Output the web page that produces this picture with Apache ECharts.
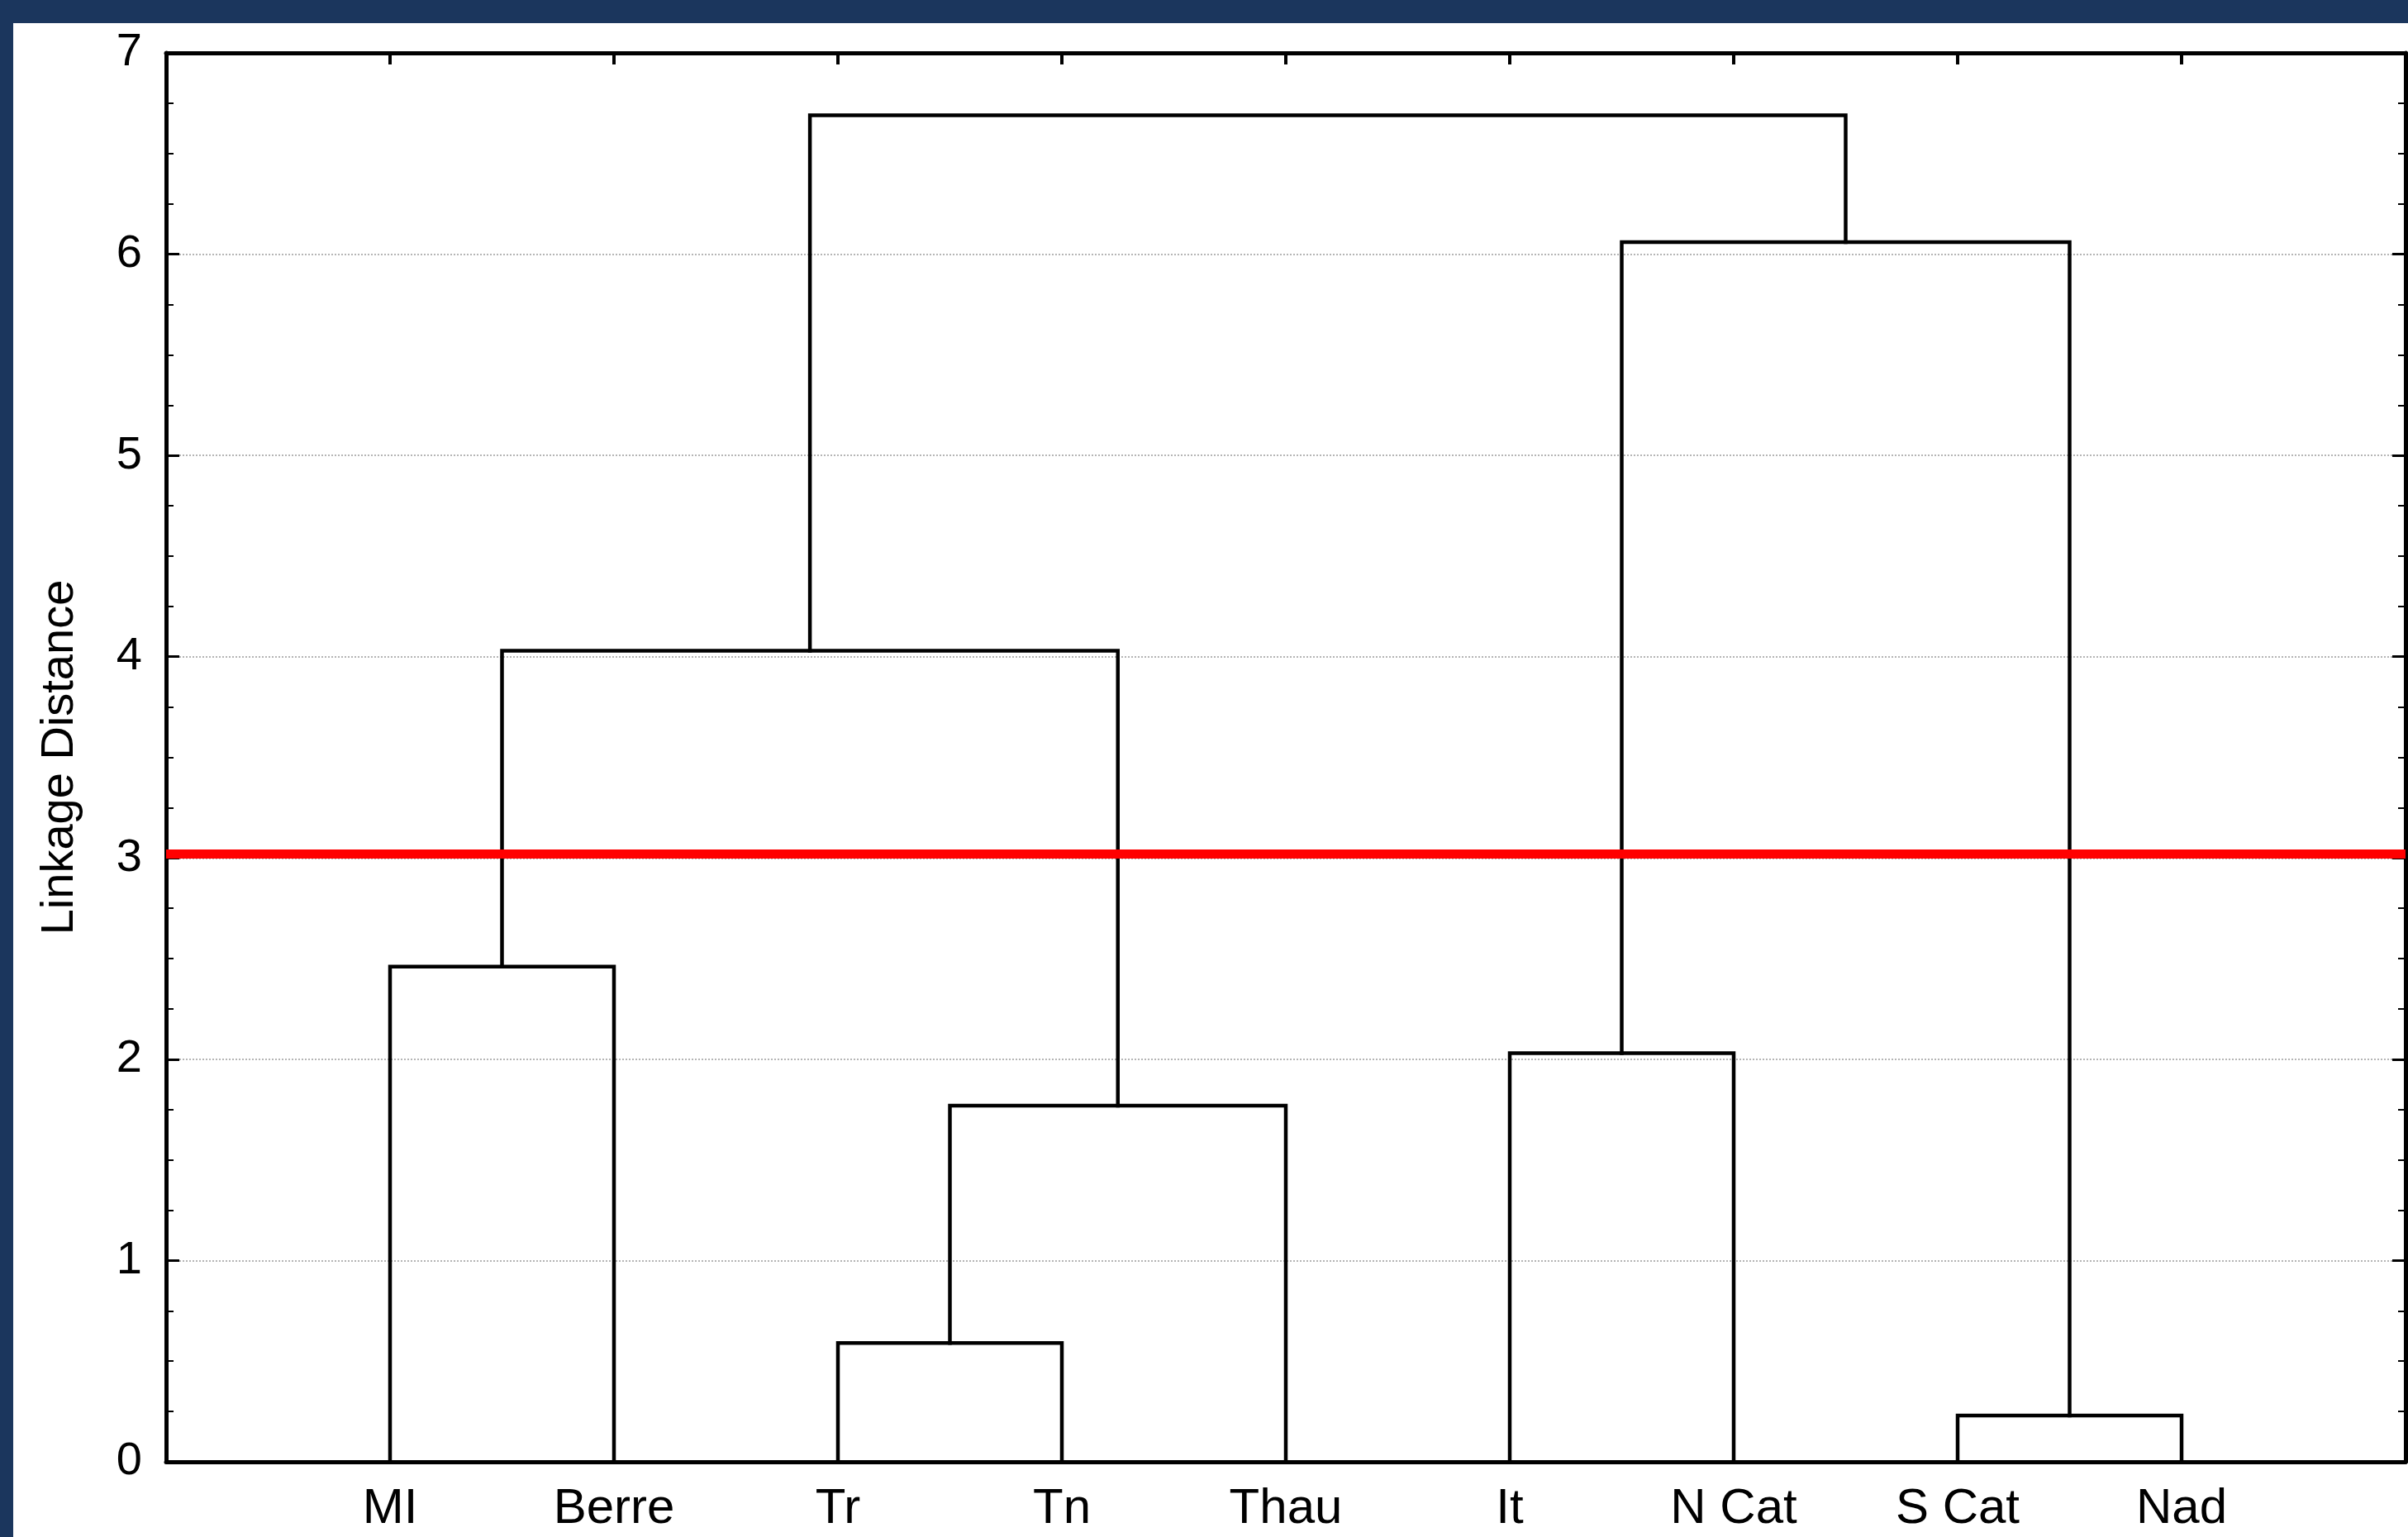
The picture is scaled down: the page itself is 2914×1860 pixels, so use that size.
<!DOCTYPE html>
<html>
<head>
<meta charset="utf-8">
<script src="https://cdn.jsdelivr.net/npm/echarts@6/dist/echarts.min.js"></script>
<style>
  html, body { margin: 0; padding: 0; width: 2914px; height: 1860px; background: #1b365d; overflow: hidden; }
  #chart { position: absolute; left: 16px; top: 28px; width: 2898px; height: 1832px; background: #ffffff; }
</style>
</head>
<body>
<div id="chart"></div>
<script>
// Leaves of the dendrogram (left to right)
const leaves = ['MI', 'Berre', 'Tr', 'Tn', 'Thau', 'It', 'N Cat', 'S Cat', 'Nad'];
// Merges: [left node, right node, linkage distance]; nodes 0..8 are leaves, 9.. are merges in order
const mergeLeft   = [0, 2, 10, 9, 5, 7, 13, 12];
const mergeRight  = [1, 3, 4, 11, 6, 8, 14, 15];
const mergeHeight = [2.46, 0.59, 1.77, 4.03, 2.03, 0.23, 6.06, 6.69];
// Cut line
const cutLevel = 3.02;
// Y axis ticks
const yTicks = [0, 1, 2, 3, 4, 5, 6, 7];

const nodeX = leaves.map((_, i) => i + 1);
const nodeY = leaves.map(() => 0);
const links = [];
for (let k = 0; k < mergeHeight.length; k++) {
  const a = mergeLeft[k], b = mergeRight[k], h = mergeHeight[k];
  links.push([[nodeX[a], nodeY[a]], [nodeX[a], h], [nodeX[b], h], [nodeX[b], nodeY[b]]]);
  nodeX.push((nodeX[a] + nodeX[b]) / 2);
  nodeY.push(h);
}

const series = links.map(d => ({
  type: 'line', data: d, symbol: 'none', silent: true, animation: false,
  lineStyle: { color: '#000', width: 4.5, join: 'miter', cap: 'square' }, z: 3, clip: false
}));
series.push({
  type: 'line', data: [[0, cutLevel], [leaves.length + 1, cutLevel]], symbol: 'none', silent: true,
  animation: false, lineStyle: { color: '#ff0000', width: 11 }, z: 4
});

const chart = echarts.init(document.getElementById('chart'), null, { renderer: 'canvas' });
const fontFam = '"Liberation Sans", Arial, sans-serif';
const frameLine = { show: true, onZero: false, lineStyle: { color: '#000', width: 5 } };
chart.setOption({
  animation: false,
  grid: { left: 185, top: 36, right: 3, bottom: 91 },
  xAxis: [
    {
      type: 'value', min: 0, max: leaves.length + 1, interval: 1, position: 'bottom',
      axisLine: frameLine,
      axisTick: { show: false },
      splitLine: { show: false },
      axisLabel: {
        show: true, margin: 27, fontSize: 60, color: '#000', fontFamily: fontFam,
        formatter: v => (v >= 1 && v <= leaves.length) ? leaves[v - 1] : ''
      }
    },
    {
      type: 'value', min: 0, max: leaves.length + 1, interval: 1, position: 'top',
      axisLine: frameLine,
      axisTick: { show: true, inside: true, length: 14, lineStyle: { color: '#000', width: 4 } },
      splitLine: { show: false },
      axisLabel: { show: false }
    }
  ],
  yAxis: [
    {
      type: 'value', min: yTicks[0], max: yTicks[yTicks.length - 1], interval: 1, position: 'left',
      name: 'Linkage Distance', nameLocation: 'middle', nameGap: 100, nameRotate: 90,
      nameTextStyle: { fontSize: 56, color: '#000', fontFamily: fontFam },
      axisLine: frameLine,
      axisTick: { show: true, inside: true, length: 16, lineStyle: { color: '#000', width: 3 } },
      minorTick: { show: true, splitNumber: 4, length: 9, lineStyle: { color: '#000', width: 2 } },
      splitLine: { show: true, lineStyle: { color: '#b5b5b5', width: 2, type: 'dotted' } },
      axisLabel: { show: true, margin: 29, fontSize: 56, color: '#000', fontFamily: fontFam }
    },
    {
      type: 'value', min: yTicks[0], max: yTicks[yTicks.length - 1], interval: 1, position: 'right',
      axisLine: frameLine,
      axisTick: { show: true, inside: true, length: 16, lineStyle: { color: '#000', width: 3 } },
      minorTick: { show: true, splitNumber: 4, length: 9, lineStyle: { color: '#000', width: 2 } },
      splitLine: { show: false },
      axisLabel: { show: false }
    }
  ],
  series: series
});
</script>
</body>
</html>
